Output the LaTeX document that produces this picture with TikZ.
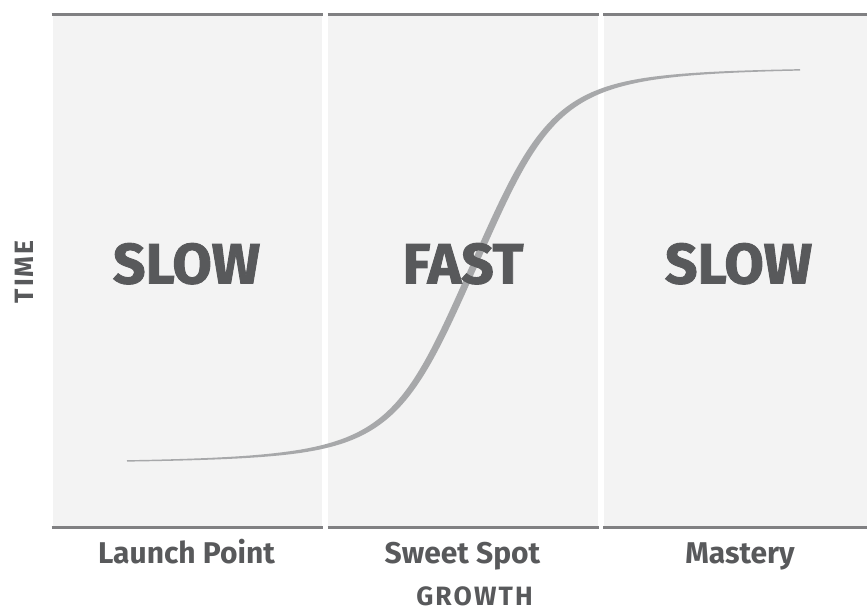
\documentclass[tikz,border=0pt]{standalone}
\usepackage{fontspec}
\setmainfont{Fira Sans}
\newfontfamily\heavyfont{Fira Sans}[BoldFeatures={FakeBold=1.6}]
\newfontfamily\axisfont{Fira Sans}[LetterSpace=8]
\definecolor{panelbg}{HTML}{F3F3F3}
\definecolor{rulecol}{HTML}{808082}
\definecolor{curvecol}{HTML}{A7A8AA}
\definecolor{txtcol}{HTML}{58595B}
\begin{document}
\begin{tikzpicture}[x=1pt,y=-1pt,
  declare function={
    sgu(\x)=0.0113*(\x-474);
    sgq(\x)=1+pow(abs(sgu(\x))+0.00001,2.6);
    sgy(\x)=265.2-197.8*sgu(\x)/pow(sgq(\x),1/2.6);
    sgm(\x)=-2.23514/pow(sgq(\x),3.6/2.6);
    sgl(\x)=sqrt(1+sgm(\x)^2);
    sgw(\x)=1.3+5.6*exp(-((\x-474)/170)^2);
  },
  panel/.style={fill=panelbg},
  rulestyle/.style={draw=rulecol,line width=2.5pt},
  bigword/.style={font=\heavyfont\bfseries\fontsize{57}{60}\selectfont,text=txtcol,anchor=base,inner sep=0pt},
  labelword/.style={font=\bfseries\fontsize{30}{32}\selectfont,text=txtcol,anchor=base,inner sep=0pt},
  axisword/.style={font=\axisfont\bfseries\fontsize{26.5}{28}\selectfont,text=txtcol,anchor=base,inner sep=0pt}
]
\useasboundingbox (0,0) rectangle (867,610);
% panels
\fill[panel] (52.5,15) rectangle (321.5,527);
\fill[panel] (327.5,15) rectangle (598,527);
\fill[panel] (603.5,15) rectangle (867,527);
% rules
\draw[rulestyle] (51.5,14.5) -- (322.5,14.5);
\draw[rulestyle] (327.5,14.5) -- (598.5,14.5);
\draw[rulestyle] (603,14.5) -- (867,14.5);
\draw[rulestyle] (51.5,527.5) -- (322.5,527.5);
\draw[rulestyle] (327.5,527.5) -- (598.5,527.5);
\draw[rulestyle] (603,527.5) -- (867,527.5);
% s-curve
\fill[curvecol]
  plot[domain=127:800,samples=400,variable=\x]
    ({\x-0.5*sgw(\x)*sgm(\x)/sgl(\x)},{sgy(\x)+0.5*sgw(\x)/sgl(\x)})
  -- plot[domain=800:127,samples=400,variable=\x]
    ({\x+0.5*sgw(\x)*sgm(\x)/sgl(\x)},{sgy(\x)-0.5*sgw(\x)/sgl(\x)})
  -- cycle;
% words
\node[bigword] (slowa) at (186.5,283.5) {SLOW};
\node[bigword] (fast) at (463,283.5) {FAST};
\node[bigword] (slowb) at (738.5,283.5) {SLOW};
\node[labelword] (launch) at (186.5,563.3) {Launch Point};
\node[labelword] (sweet) at (462.5,563.3) {Sweet Spot};
\node[labelword] (mastery) at (740,563.3) {Mastery};
\node[axisword] (growth) at (474.5,605.5) {GROWTH};
\node[axisword,rotate=90] (time) at (33.3,271.7) {TIME};
\end{tikzpicture}
\end{document}
